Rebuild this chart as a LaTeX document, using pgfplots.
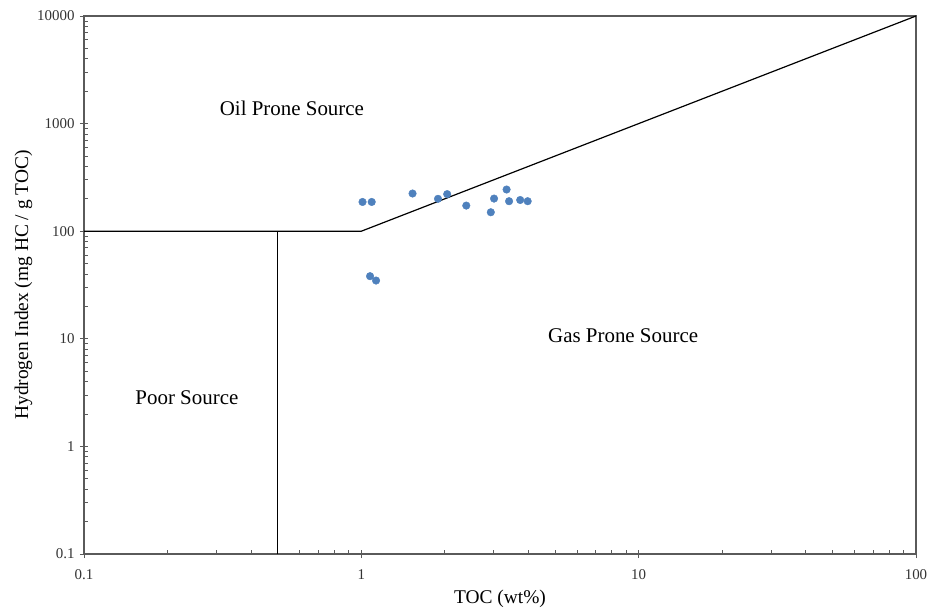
\documentclass[border=0pt]{standalone}
\usepackage{fontspec}
\setmainfont{Liberation Serif}
\usepackage{pgfplots}
\pgfplotsset{compat=1.18}
\definecolor{ptblue}{RGB}{79,129,189}
\definecolor{axgray}{RGB}{90,90,90}
\begin{document}
\begin{tikzpicture}
\begin{axis}[
  scale only axis,
  width=832bp, height=538bp,
  xmode=log, ymode=log,
  xmin=0.1, xmax=100, ymin=0.1, ymax=10000,
  /pgf/number format/assume math mode=true,
  xtick={0.1,1,10,100}, xticklabels={0.1,1,10,100},
  ytick={0.1,1,10,100,1000,10000}, yticklabels={0.1,1,10,100,1000,10000},
  tick pos=left,
  tick align=inside,
  major tick length=4bp, minor tick length=4bp,
  extra x ticks={0.1,1,10,100}, extra x tick labels={},
  extra y ticks={0.1,1,10,100,1000,10000}, extra y tick labels={},
  extra tick style={tick align=outside, major tick length=4bp},
  axis line style={axgray, line width=1.2bp},
  every tick/.style={axgray, line width=0.8bp},
  ticklabel style={font=\fontsize{15}{17}\selectfont, text=black!80},
  xticklabel style={yshift=-12bp},
  yticklabel style={xshift=-6bp},
  xlabel={TOC (wt\%)},
  ylabel={Hydrogen Index (mg HC / g TOC)},
  label style={font=\fontsize{19.5}{22}\selectfont},
  xlabel style={yshift=0bp},
  ylabel style={yshift=-6bp},
  clip=false,
]
\addplot[black, line width=1.2bp] coordinates {(0.1,100) (1,100) (100,10000)};
\addplot[black, line width=0.9bp] coordinates {(0.5,0.1) (0.5,100)};
\addplot[only marks, mark=*, mark size=3.8bp, color=ptblue, mark options={draw=ptblue, fill=ptblue}] coordinates {
 (1.01,187) (1.09,187) (1.53,224) (1.89,200) (2.04,221) (2.39,173)
 (2.93,150) (3.01,201) (3.34,244) (3.41,190) (3.74,195) (3.98,190)
 (1.075,38.2) (1.13,34.8)
};
\node[font=\fontsize{21}{24}\selectfont] at (axis cs:0.562,1396) {Oil Prone Source};
\node[font=\fontsize{21}{24}\selectfont] at (axis cs:8.79,10.6) {Gas Prone Source};
\node[font=\fontsize{21}{24}\selectfont] at (axis cs:0.235,2.82) {Poor Source};
\end{axis}
\pgfresetboundingbox
\path ([shift={(-84bp,-57bp)}]current axis.south west) rectangle ([shift={(14bp,16bp)}]current axis.north east);
\end{tikzpicture}
\end{document}
